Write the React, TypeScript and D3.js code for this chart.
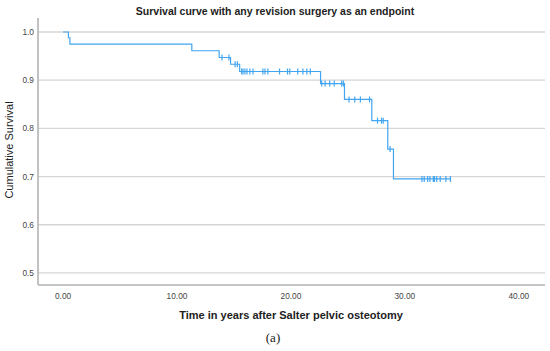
import { useRef, useEffect } from 'react';
import * as d3 from 'd3';

// Kaplan-Meier steps: time of event and survival after it
const stepTimes = [0, 0.47, 0.6, 11.3, 13.7, 14.7, 15.5, 22.6, 24.7, 27.1, 28.5, 29.0];
const stepSurv = [1.0, 0.988, 0.975, 0.961, 0.947, 0.933, 0.918, 0.893, 0.86, 0.816, 0.757, 0.695];
const lastTime = 34.0;

// censored observations (years)
const censorTimes = [
  13.95, 14.56, 15.1, 15.3,
  15.68, 15.79, 15.96, 16.14, 16.4, 16.67, 17.54, 17.72, 17.98,
  19.0, 19.7, 19.9, 20.6, 21.05, 21.4, 21.7,
  22.7, 23.0, 23.4, 23.8, 24.45, 24.6,
  25.1, 25.6, 26.1, 26.9,
  27.6, 27.95, 28.1, 28.7,
  31.5, 31.7, 32.0, 32.2, 32.5, 32.6, 32.8, 33.1, 33.6, 34.0,
];

const xTicks = [0, 10, 20, 30, 40];
const yTicks = [0.5, 0.6, 0.7, 0.8, 0.9, 1.0];

export default function App() {
  const svgRef = useRef<SVGSVGElement>(null);

  useEffect(() => {
    const width = 550;
    const height = 351;
    const svg = d3.select(svgRef.current);
    svg.selectAll('*').remove();

    const x = d3.scaleLinear().domain([-2.2, 42.3]).range([38, 545]);
    const y = d3.scaleLinear().domain([0.475, 1.029]).range([285, 18]);

    svg.attr('width', width).attr('height', height);

    // gridlines
    svg.append('g')
      .selectAll('line')
      .data(yTicks)
      .enter()
      .append('line')
      .attr('x1', x(-2.2))
      .attr('x2', x(42.3))
      .attr('y1', d => y(d))
      .attr('y2', d => y(d))
      .attr('stroke', '#d6d6d6')
      .attr('stroke-width', 1.3);

    // axes lines
    svg.append('line')
      .attr('x1', 38).attr('x2', 38)
      .attr('y1', y(1.029)).attr('y2', 285)
      .attr('stroke', '#b3b3b3').attr('stroke-width', 1.6);
    svg.append('line')
      .attr('x1', 38).attr('x2', 545)
      .attr('y1', 285).attr('y2', 285)
      .attr('stroke', '#b3b3b3').attr('stroke-width', 1.6);

    // tick labels
    svg.append('g')
      .selectAll('text')
      .data(yTicks)
      .enter()
      .append('text')
      .attr('x', 34)
      .attr('y', d => y(d) + 3)
      .attr('text-anchor', 'end')
      .attr('font-family', 'Liberation Sans, Arial, sans-serif')
      .attr('font-size', 8.3)
      .attr('fill', '#444')
      .text(d => d.toFixed(1));

    svg.append('g')
      .selectAll('text')
      .data(xTicks)
      .enter()
      .append('text')
      .attr('x', d => x(d))
      .attr('y', 299)
      .attr('text-anchor', 'middle')
      .attr('font-family', 'Liberation Sans, Arial, sans-serif')
      .attr('font-size', 8.3)
      .attr('fill', '#444')
      .text(d => d.toFixed(2));

    // survival step curve
    const pts: [number, number][] = stepTimes.map((t, i) => [t, stepSurv[i]]);
    pts.push([lastTime, stepSurv[stepSurv.length - 1]]);
    const line = d3.line<[number, number]>()
      .x(d => x(d[0]))
      .y(d => y(d[1]))
      .curve(d3.curveStepAfter);

    const color = '#42a5f0';
    svg.append('path')
      .datum(pts)
      .attr('d', line)
      .attr('fill', 'none')
      .attr('stroke', color)
      .attr('stroke-width', 1.2);

    const survAt = (t: number) => {
      let s = 1;
      stepTimes.forEach((st, i) => { if (st <= t) s = stepSurv[i]; });
      return s;
    };

    svg.append('g')
      .selectAll('line')
      .data(censorTimes)
      .enter()
      .append('line')
      .attr('x1', d => x(d))
      .attr('x2', d => x(d))
      .attr('y1', d => y(survAt(d)) - 3)
      .attr('y2', d => y(survAt(d)) + 3)
      .attr('stroke', color)
      .attr('stroke-width', 1.2);

    // titles
    svg.append('text')
      .attr('x', 275)
      .attr('y', 15)
      .attr('text-anchor', 'middle')
      .attr('font-family', 'Liberation Sans, Arial, sans-serif')
      .attr('font-size', 10.5)
      .attr('font-weight', 'bold')
      .attr('fill', '#222')
      .text('Survival curve with any revision surgery as an endpoint');

    svg.append('text')
      .attr('transform', `translate(13, 150) rotate(-90)`)
      .attr('text-anchor', 'middle')
      .attr('font-family', 'Liberation Sans, Arial, sans-serif')
      .attr('font-size', 11)
      .attr('fill', '#222')
      .text('Cumulative Survival');

    svg.append('text')
      .attr('x', 291)
      .attr('y', 319)
      .attr('text-anchor', 'middle')
      .attr('font-family', 'Liberation Sans, Arial, sans-serif')
      .attr('font-size', 11)
      .attr('font-weight', 'bold')
      .attr('fill', '#222')
      .text('Time in years after Salter pelvic osteotomy');

    svg.append('text')
      .attr('x', 273)
      .attr('y', 342)
      .attr('text-anchor', 'middle')
      .attr('font-family', 'Liberation Serif, Times New Roman, serif')
      .attr('font-size', 13)
      .attr('fill', '#222')
      .text('(a)');
  }, []);

  return (
    <svg ref={svgRef} style={{ position: 'absolute', left: 0, top: 0 }} />
  );
}
